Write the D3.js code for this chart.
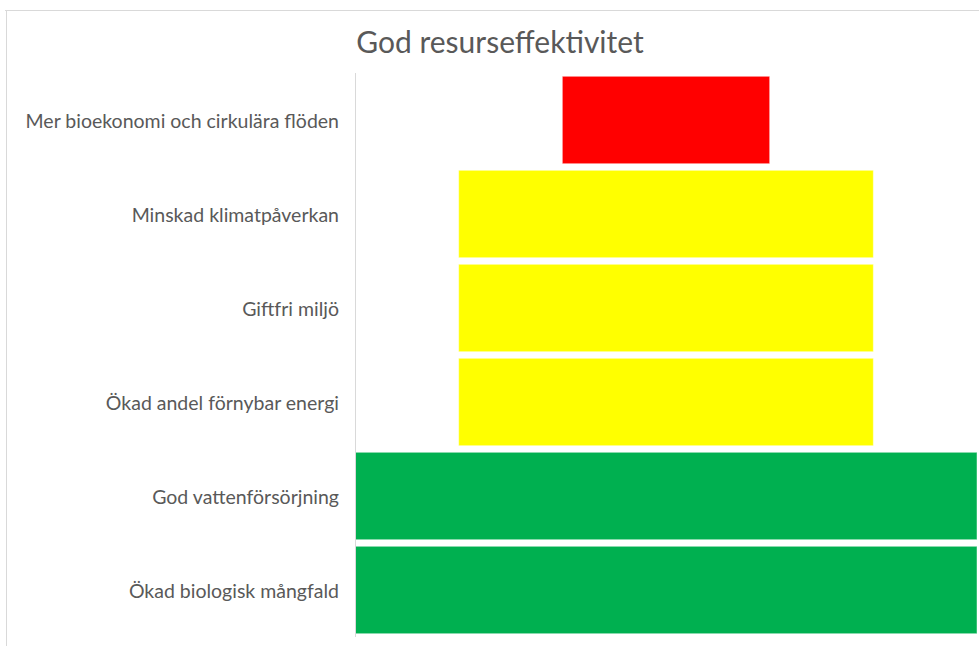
<!DOCTYPE html>
<html>
<head>
<meta charset="utf-8">
<script src="https://cdn.jsdelivr.net/npm/d3@7"></script>
<style>
  html, body { margin: 0; padding: 0; background: #fff; }
  svg { display: block; }
</style>
</head>
<body>
<svg width="979" height="646"></svg>
<script>
// The data:
const title = 'God resurseffektivitet'
const categories = [
  'Mer bioekonomi och cirkulära flöden',
  'Minskad klimatpåverkan',
  'Giftfri miljö',
  'Ökad andel förnybar energi',
  'God vattenförsörjning',
  'Ökad biologisk mångfald',
]
const values = [1, 2, 2, 2, 3, 3]
const barColors = ['#FF0000', '#FFFF00', '#FFFF00', '#FFFF00', '#00B050', '#00B050']

const rows = categories.map((c, i) => ({ name: c, value: values[i], color: barColors[i] }))

const svg = d3.select('svg')
const font = 'Lato, "Open Sans", sans-serif'

// Chart frame (the picture is cropped, so only top and left edges show)
svg.append('line')
  .attr('x1', 5).attr('x2', 979).attr('y1', 10.5).attr('y2', 10.5)
  .attr('stroke', '#d9d9d9').attr('stroke-width', 1)
svg.append('line')
  .attr('x1', 6.5).attr('x2', 6.5).attr('y1', 10).attr('y2', 646)
  .attr('stroke', '#d9d9d9').attr('stroke-width', 1)

// Scales: centred bars, so each bar starts at half the missing width
const maxValue = d3.max(values)
const xScale = d3.scaleLinear().domain([0, maxValue]).range([355, 977])
const yScale = d3.scaleBand().domain(categories).range([73, 637])
  .paddingInner(0.07).paddingOuter(0.035)

svg.append('g')
  .selectAll('rect')
  .data(rows)
  .enter()
  .append('rect')
  .attr('x', (d) => xScale((maxValue - d.value) / 2))
  .attr('y', (d) => yScale(d.name))
  .attr('width', (d) => xScale(d.value) - xScale(0))
  .attr('height', yScale.bandwidth())
  .attr('fill', (d) => d.color)
  .attr('stroke', '#ffffff')
  .attr('stroke-opacity', 0.45)
  .attr('stroke-width', 1)

// Category axis
const yAxis = d3.axisLeft(yScale).tickSize(0).tickPadding(16)
const yAxisG = svg.append('g').attr('id', 'yAxisG')
  .attr('transform', 'translate(355,0)')
  .call(yAxis)
yAxisG.select('.domain').remove()
yAxisG.selectAll('text')
  .attr('fill', '#595959')
  .attr('dy', '0.4em')
  .style('font-family', font)
  .style('font-size', '19.5px')

svg.append('line')
  .attr('x1', 355.5).attr('x2', 355.5).attr('y1', 73).attr('y2', 637)
  .attr('stroke', '#d9d9d9').attr('stroke-width', 1)

// Title
svg.append('text')
  .attr('x', 500).attr('y', 53)
  .attr('text-anchor', 'middle')
  .attr('fill', '#595959')
  .style('font-family', font)
  .style('font-size', '30px')
  .text(title)
</script>
</body>
</html>
